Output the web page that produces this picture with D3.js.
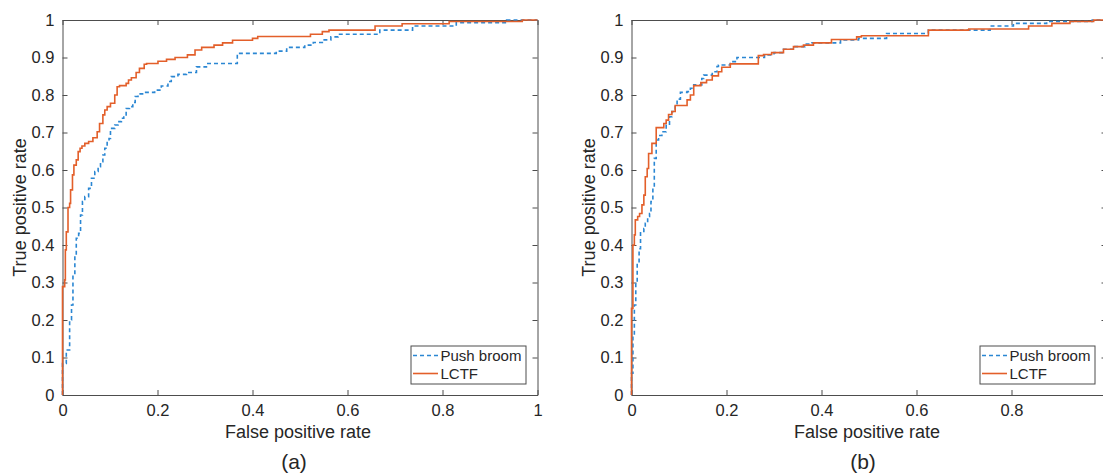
<!DOCTYPE html>
<html>
<head>
<meta charset="utf-8">
<script src="https://cdn.jsdelivr.net/npm/d3@7"></script>
<style>
  html, body { margin: 0; padding: 0; background: #fff; }
  svg { display: block; font-family: "Liberation Sans", Arial, sans-serif; }
</style>
</head>
<body>
<svg id="chart" width="1103" height="475"></svg>
<script>
// ---- data (FPR, TPR after the step at that FPR) ----
const xTicks = [0, 0.2, 0.4, 0.6, 0.8, 1];
const yTicks = [0, 0.1, 0.2, 0.3, 0.4, 0.5, 0.6, 0.7, 0.8, 0.9, 1];
const seriesNames = ["Push broom", "LCTF"];
const panelLabels = ["(a)", "(b)"];

const pushBroomA = [[0,0],[0,0.084],[0.008,0.12],[0.015,0.2],[0.019,0.24],[0.022,0.32],[0.026,0.373],[0.029,0.418],[0.034,0.431],[0.038,0.48],[0.042,0.516],[0.047,0.529],[0.055,0.551],[0.061,0.578],[0.068,0.596],[0.075,0.609],[0.08,0.622],[0.085,0.64],[0.089,0.658],[0.094,0.676],[0.098,0.684],[0.101,0.711],[0.11,0.72],[0.117,0.729],[0.124,0.738],[0.129,0.747],[0.134,0.764],[0.141,0.769],[0.148,0.78],[0.153,0.796],[0.159,0.803],[0.173,0.807],[0.194,0.813],[0.208,0.824],[0.222,0.836],[0.229,0.849],[0.243,0.855],[0.261,0.86],[0.282,0.875],[0.303,0.884],[0.368,0.911],[0.45,0.917],[0.472,0.927],[0.51,0.933],[0.528,0.94],[0.547,0.947],[0.565,0.955],[0.58,0.962],[0.668,0.973],[0.737,0.984],[0.829,0.993],[0.935,1],[1,1]];

const lctfA = [[0,0],[0,0.289],[0.0046,0.307],[0.006,0.387],[0.008,0.435],[0.0116,0.5],[0.015,0.511],[0.017,0.547],[0.021,0.587],[0.024,0.613],[0.029,0.627],[0.033,0.649],[0.037,0.658],[0.041,0.664],[0.047,0.671],[0.055,0.676],[0.064,0.686],[0.073,0.702],[0.078,0.724],[0.085,0.747],[0.089,0.76],[0.094,0.769],[0.101,0.778],[0.11,0.8],[0.115,0.822],[0.12,0.825],[0.134,0.831],[0.139,0.84],[0.145,0.846],[0.155,0.86],[0.162,0.871],[0.172,0.882],[0.177,0.884],[0.201,0.89],[0.219,0.895],[0.237,0.9],[0.263,0.907],[0.279,0.92],[0.293,0.927],[0.319,0.933],[0.337,0.939],[0.358,0.946],[0.4,0.951],[0.411,0.956],[0.522,0.962],[0.547,0.969],[0.561,0.973],[0.658,0.984],[0.715,0.99],[0.814,0.996],[0.968,1],[1,1]];

const pushBroomB = [[0,0],[0,0.058],[0.003,0.16],[0.006,0.24],[0.009,0.3],[0.012,0.351],[0.016,0.39],[0.019,0.436],[0.026,0.444],[0.029,0.458],[0.034,0.476],[0.038,0.484],[0.041,0.516],[0.045,0.551],[0.048,0.631],[0.052,0.68],[0.057,0.692],[0.064,0.702],[0.073,0.72],[0.08,0.742],[0.085,0.756],[0.092,0.773],[0.096,0.789],[0.103,0.807],[0.117,0.809],[0.124,0.818],[0.131,0.827],[0.148,0.844],[0.152,0.853],[0.17,0.862],[0.18,0.876],[0.183,0.88],[0.208,0.889],[0.222,0.9],[0.28,0.907],[0.3,0.913],[0.32,0.922],[0.34,0.929],[0.365,0.936],[0.38,0.939],[0.44,0.947],[0.478,0.951],[0.537,0.964],[0.625,0.973],[0.755,0.984],[0.804,0.991],[0.874,0.996],[0.97,1],[1,1]];

const lctfB = [[0,0],[0,0.231],[0.003,0.4],[0.006,0.427],[0.008,0.467],[0.013,0.476],[0.017,0.484],[0.022,0.507],[0.026,0.533],[0.029,0.582],[0.033,0.604],[0.036,0.644],[0.043,0.671],[0.052,0.713],[0.068,0.724],[0.073,0.733],[0.078,0.748],[0.085,0.756],[0.092,0.772],[0.117,0.787],[0.124,0.8],[0.131,0.825],[0.146,0.833],[0.158,0.84],[0.17,0.851],[0.183,0.862],[0.19,0.874],[0.208,0.883],[0.267,0.905],[0.278,0.908],[0.295,0.913],[0.32,0.922],[0.341,0.929],[0.362,0.933],[0.383,0.939],[0.421,0.948],[0.474,0.955],[0.484,0.958],[0.625,0.973],[0.71,0.976],[0.836,0.984],[0.885,0.991],[0.923,0.996],[0.973,1],[1,1]];

const panels = [
  { offset: 0, series: [pushBroomA, lctfA], label: panelLabels[0] },
  { offset: 569, series: [pushBroomB, lctfB], label: panelLabels[1] }
];
const colors = ["#2b87d3", "#e35f2a"];
const dashes = ["4,3", null];

const svg = d3.select("#chart");
svg.append("rect").attr("width", 1103).attr("height", 475).attr("fill", "#fff");

const axisColor = "#4d4d4d";
const textColor = "#262626";
const tickLen = 5;

panels.forEach(p => {
  const left = 62.5 + p.offset, right = 537.5 + p.offset;
  const top = 20, bottom = 395;
  const x = d3.scaleLinear().domain([0, 1]).range([left, right]);
  const y = d3.scaleLinear().domain([0, 1]).range([bottom, top]);
  const g = svg.append("g");

  const fmt = d => d3.format("~g")(d);
  const ax = [
    g.append("g").attr("transform", `translate(0,${bottom})`)
      .call(d3.axisBottom(x).tickValues(xTicks).tickFormat(fmt).tickSizeInner(-tickLen).tickSizeOuter(0).tickPadding(9)),
    g.append("g").attr("transform", `translate(${left},0)`)
      .call(d3.axisLeft(y).tickValues(yTicks).tickFormat(fmt).tickSizeInner(-tickLen).tickSizeOuter(0).tickPadding(8)),
    g.append("g").attr("transform", `translate(0,${top})`)
      .call(d3.axisTop(x).tickValues(xTicks).tickFormat("").tickSizeInner(-tickLen).tickSizeOuter(0)),
    g.append("g").attr("transform", `translate(${right},0)`)
      .call(d3.axisRight(y).tickValues(yTicks).tickFormat("").tickSizeInner(-tickLen).tickSizeOuter(0))
  ];
  ax.forEach(a => {
    a.select(".domain").attr("stroke", axisColor).attr("stroke-width", 1);
    a.selectAll(".tick line").attr("stroke", axisColor).attr("stroke-width", 1);
    a.selectAll(".tick text").attr("fill", textColor).attr("font-size", 16.5)
      .attr("font-family", '"Liberation Sans", Arial, sans-serif');
  });

  const line = d3.line().x(d => x(d[0])).y(d => y(d[1])).curve(d3.curveStepAfter);
  p.series.forEach((s, i) => {
    g.append("path").datum(s).attr("d", line)
      .attr("fill", "none").attr("stroke", colors[i]).attr("stroke-width", 1.6)
      .attr("stroke-dasharray", dashes[i]);
  });

  g.append("text").attr("x", (left + right) / 2 - 2).attr("y", 438)
    .attr("text-anchor", "middle").attr("font-size", 18).attr("fill", textColor)
    .text("False positive rate");
  g.append("text").attr("transform", `translate(${26 + p.offset},${(top + bottom) / 2}) rotate(-90)`)
    .attr("text-anchor", "middle").attr("font-size", 18).attr("fill", textColor)
    .text("True positive rate");

  g.append("text").attr("x", 294 + p.offset).attr("y", 469)
    .attr("text-anchor", "middle").attr("font-size", 21).attr("fill", textColor)
    .text(p.label);

  const lx = right - 126.5, ly = 346;
  const lg = g.append("g");
  lg.append("rect").attr("x", lx).attr("y", ly).attr("width", 115).attr("height", 38)
    .attr("fill", "#fff").attr("stroke", axisColor).attr("stroke-width", 1);
  seriesNames.forEach((name, i) => {
    const cy = ly + 9.5 + i * 18;
    lg.append("line").attr("x1", lx + 2).attr("x2", lx + 27).attr("y1", cy).attr("y2", cy)
      .attr("stroke", colors[i]).attr("stroke-width", 1.6).attr("stroke-dasharray", dashes[i]);
    lg.append("text").attr("x", lx + 29.5).attr("y", cy + 5.3)
      .attr("font-size", 15).attr("fill", textColor).text(name);
  });
});
</script>
</body>
</html>
